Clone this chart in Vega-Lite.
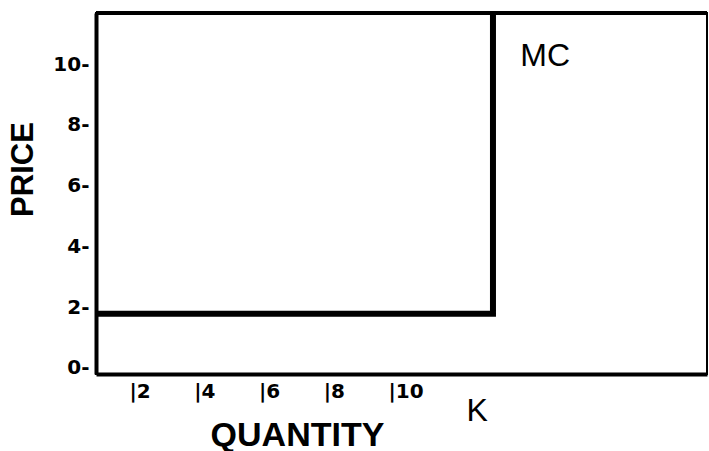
{
  "$schema": "https://vega.github.io/schema/vega-lite/v6.json",
  "width": 611,
  "height": 361,
  "autosize": {"type": "none"},
  "padding": {"left": 96, "top": 13, "right": 2, "bottom": 77},
  "background": "white",
  "config": {
    "view": {"stroke": "black", "strokeWidth": 2},
    "axis": {"grid": false, "ticks": false, "domainColor": "black", "domainWidth": 4, "labelColor": "black", "titleColor": "black"}
  },
  "layer": [
    {
      "data": {"values": [
        {"q": 0.98, "p": 1.78, "o": 1},
        {"q": 13.24, "p": 1.78, "o": 2},
        {"q": 13.24, "p": 11.68, "o": 3}
      ]},
      "mark": {"type": "line", "color": "black", "strokeWidth": 6, "clip": true},
      "encoding": {
        "x": {
          "field": "q", "type": "quantitative",
          "scale": {"domain": [0.98, 19.85], "nice": false, "zero": false},
          "axis": {
            "values": [2, 4, 6, 8, 10],
            "labelExpr": "'|' + datum.label",
            "labelAlign": "left", "labelBaseline": "top", "labelPadding": 7,
            "labelFont": "DejaVu Sans", "labelFontSize": 20, "labelFontWeight": "bold",
            "labelFlush": false, "labelOverlap": false,
            "title": "QUANTITY", "titleFont": "Liberation Sans", "titleFontSize": 34, "titleFontWeight": "bold",
            "titleX": 201, "titleY": 61, "titleAlign": "center", "titleBaseline": "middle"
          }
        },
        "y": {
          "field": "p", "type": "quantitative",
          "scale": {"domain": [-0.2, 11.68], "nice": false, "zero": false},
          "axis": {
            "values": [0, 2, 4, 6, 8, 10],
            "labelExpr": "datum.label + '-'",
            "labelAlign": "right", "labelBaseline": "middle", "labelPadding": 7,
            "labelFont": "DejaVu Sans", "labelFontSize": 20, "labelFontWeight": "bold",
            "labelFlush": false, "labelOverlap": false,
            "title": "PRICE", "titleFont": "Liberation Sans", "titleFontSize": 31, "titleFontWeight": "bold",
            "titleAngle": -90, "titleX": -73, "titleY": 156, "titleAlign": "center", "titleBaseline": "middle"
          }
        },
        "order": {"field": "o"}
      }
    },
    {
      "data": {"values": [{"top": 11.68}]},
      "mark": {"type": "rule", "color": "black", "strokeWidth": 4},
      "encoding": {"y": {"field": "top", "type": "quantitative"}}
    },
    {
      "data": {"values": [
        {"q": 14.85, "p": 10.26, "label": "MC"},
        {"q": 12.75, "p": -1.41, "label": "K"}
      ]},
      "mark": {"type": "text", "font": "Liberation Sans", "fontSize": 32, "color": "black", "align": "center", "baseline": "middle"},
      "encoding": {
        "x": {"field": "q", "type": "quantitative"},
        "y": {"field": "p", "type": "quantitative"},
        "text": {"field": "label"}
      }
    }
  ]
}
